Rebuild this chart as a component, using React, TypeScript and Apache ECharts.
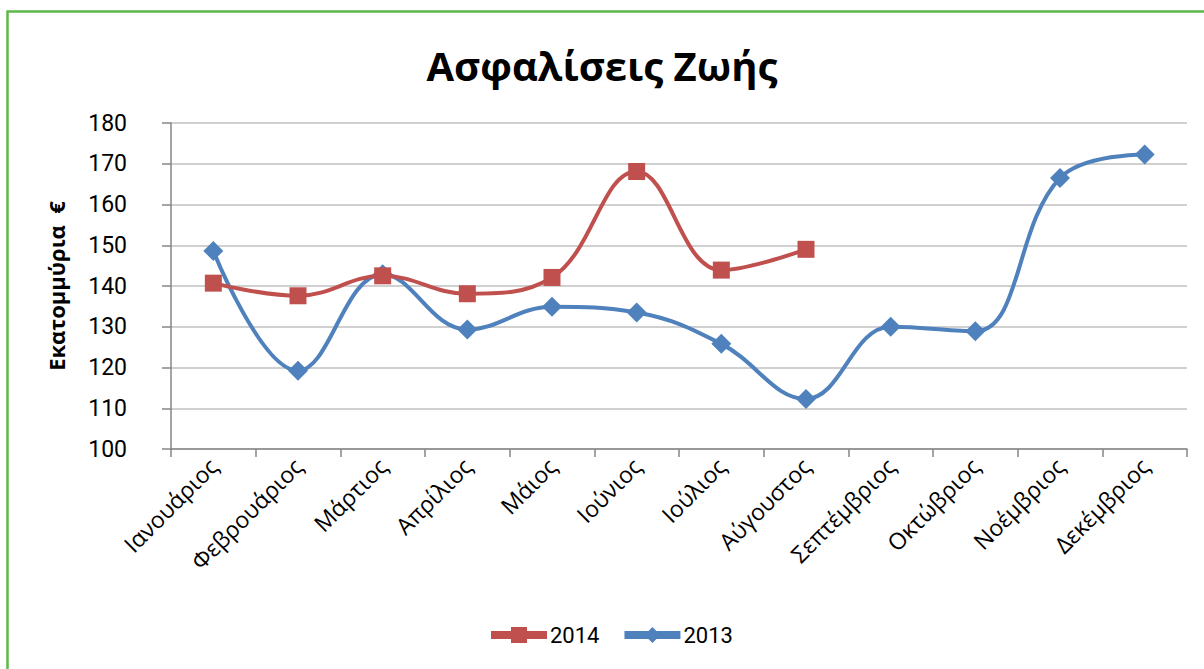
import React, { useEffect, useRef } from "react";
import * as echarts from "echarts";

const categories = [
  "Ιανουάριος", "Φεβρουάριος", "Μάρτιος", "Απρίλιος", "Μάιος", "Ιούνιος",
  "Ιούλιος", "Αύγουστος", "Σεπτέμβριος", "Οκτώβριος", "Νοέμβριος", "Δεκέμβριος",
];
const values2014: (number | null)[] = [140.7, 137.6, 142.5, 138.1, 142.1, 168.1, 143.9, 149.0, null, null, null, null];
const values2013: number[] = [148.6, 119.2, 142.9, 129.3, 134.9, 133.5, 125.8, 112.3, 130.0, 128.9, 166.5, 172.3];
const yTicks = { min: 100, max: 180, interval: 10 };

const titleText = "Ασφαλίσεις Ζωής";
const yAxisName = "Εκατομμύρια  €";

export default function App() {
  const ref = useRef<HTMLDivElement>(null);
  useEffect(() => {
    document.body.style.margin = "0";
    if (!ref.current) return;
    const chart = echarts.init(ref.current, undefined, { renderer: "svg" });
    const font = "'Open Sans', sans-serif";
    chart.setOption({
      animation: false,
      backgroundColor: "#ffffff",
      title: {
        text: titleText,
        left: "center",
        top: 40,
        textStyle: { fontFamily: font, fontSize: 40, fontWeight: "bold", color: "#000" },
      },
      graphic: [
        {
          type: "rect",
          shape: { x: 7.5, y: 11.5, width: 1220, height: 720 },
          style: { fill: "none", stroke: "#5cb84a", lineWidth: 2.5 },
          silent: true,
        },
      ],
      legend: {
        bottom: 18,
        left: 482,
        itemWidth: 56,
        itemHeight: 20,
        itemGap: 21,
        lineStyle: { width: 8 },
        textStyle: { fontFamily: "Roboto, sans-serif", fontSize: 22, color: "#000", padding: [0, 0, 0, -2] },
        data: ["2014", "2013"],
      },
      grid: { left: 171, right: 17, top: 123, bottom: 220, containLabel: false },
      xAxis: {
        type: "category",
        data: categories,
        boundaryGap: true,
        axisLine: { lineStyle: { color: "#868686", width: 1.5 } },
        axisTick: { show: true, length: 8, lineStyle: { color: "#868686", width: 1.5 } },
        axisLabel: {
          interval: 0,
          rotate: 45,
          margin: 13,
          fontFamily: font,
          fontSize: 23,
          color: "#000",
        },
        splitLine: { show: false },
      },
      yAxis: {
        type: "value",
        min: yTicks.min,
        max: yTicks.max,
        interval: yTicks.interval,
        name: yAxisName,
        nameLocation: "middle",
        nameGap: 104,
        nameRotate: 90,
        nameTextStyle: { fontFamily: font, fontSize: 22, fontWeight: "bold", color: "#000" },
        axisLine: { show: true, lineStyle: { color: "#868686", width: 1.5 } },
        axisTick: { show: true, length: 9, lineStyle: { color: "#868686", width: 1.5 } },
        axisLabel: { margin: 44, fontFamily: "Roboto, sans-serif", fontSize: 23, color: "#000" },
        splitLine: { show: true, lineStyle: { color: "#c0c0c0", width: 1.5 } },
      },
      series: [
        {
          name: "2014",
          type: "line",
          data: values2014,
          smooth: 0.4,
          symbol: "rect",
          symbolSize: 17,
          lineStyle: { color: "#c0504d", width: 4 },
          itemStyle: { color: "#c0504d" },
          z: 3,
        },
        {
          name: "2013",
          type: "line",
          data: values2013,
          smooth: 0.4,
          symbol: "diamond",
          symbolSize: 20,
          lineStyle: { color: "#4f81bd", width: 4 },
          itemStyle: { color: "#4f81bd" },
          z: 2,
        },
      ],
    });
    return () => chart.dispose();
  }, []);
  return <div ref={ref} style={{ width: 1204, height: 669 }} />;
}
